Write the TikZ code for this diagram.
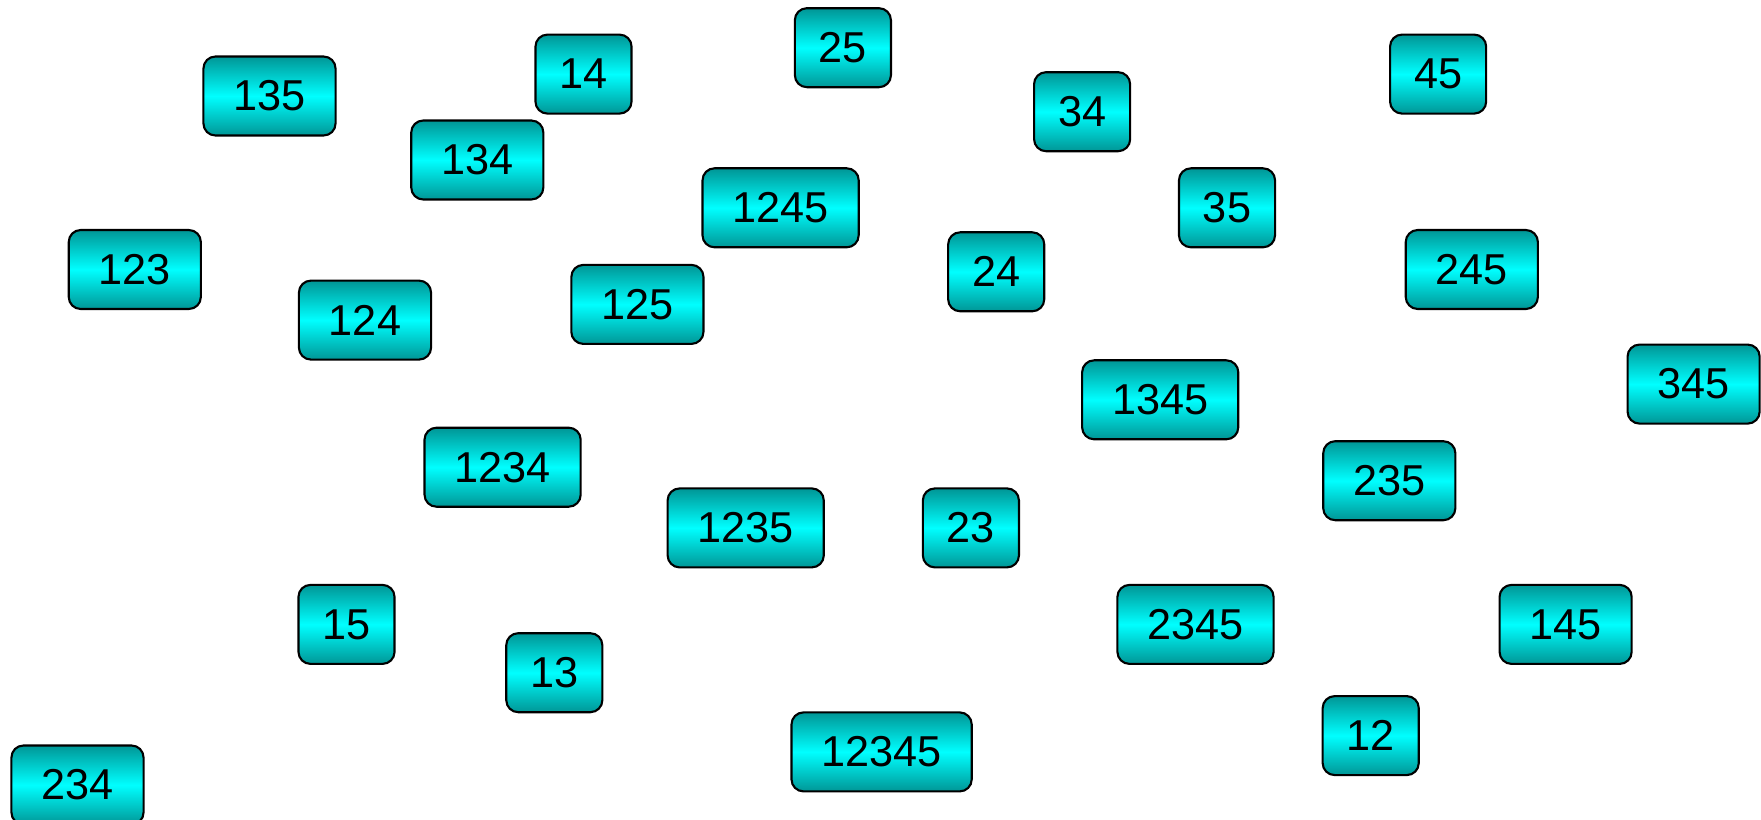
\documentclass[tikz,border=0pt]{standalone}
\usepackage{fontspec}
\setmainfont{Liberation Sans}
\definecolor{boxedge}{RGB}{0,150,150}
\tikzset{
  subset/.style={draw=black, line width=0.6pt, rounded corners=0.12cm,
    top color=boxedge, bottom color=boxedge, middle color=cyan,
    minimum height=0.79cm, inner xsep=0.3cm,
    font=\fontsize{12.3}{14}\selectfont},
  pair/.style={subset, inner xsep=0.24cm}
}
\begin{document}
\begin{tikzpicture}[scale=1.0]
  \useasboundingbox (0,0) rectangle (17.61,-8.2);
  \node[subset] (s135) at (2.695,-0.960) {135};
  \node[pair] (s14) at (5.835,-0.741) {14};
  \node[pair] (s25) at (8.429,-0.477) {25};
  \node[pair] (s34) at (10.821,-1.117) {34};
  \node[pair] (s45) at (14.381,-0.741) {45};
  \node[subset] (s134) at (4.773,-1.600) {134};
  \node[subset] (s1245) at (7.806,-2.078) {1245};
  \node[pair] (s35) at (12.270,-2.078) {35};
  \node[subset] (s123) at (1.348,-2.695) {123};
  \node[pair] (s24) at (9.962,-2.718) {24};
  \node[subset] (s245) at (14.718,-2.695) {245};
  \node[subset] (s124) at (3.650,-3.201) {124};
  \node[subset] (s125) at (6.374,-3.044) {125};
  \node[subset] (s1345) at (11.602,-3.998) {1345};
  \node[subset] (s345) at (16.936,-3.841) {345};
  \node[subset] (s1234) at (5.026,-4.672) {1234};
  \node[subset] (s235) at (13.893,-4.807) {235};
  \node[subset] (s1235) at (7.457,-5.279) {1235};
  \node[pair] (s23) at (9.709,-5.279) {23};
  \node[pair] (s15) at (3.465,-6.244) {15};
  \node[subset] (s2345) at (11.955,-6.244) {2345};
  \node[subset] (s145) at (15.656,-6.244) {145};
  \node[pair] (s13) at (5.543,-6.727) {13};
  \node[pair] (s12) at (13.707,-7.356) {12};
  \node[subset] (s12345) at (8.816,-7.519) {12345};
  \node[subset] (s234) at (0.775,-7.850) {234};
\end{tikzpicture}
\end{document}
